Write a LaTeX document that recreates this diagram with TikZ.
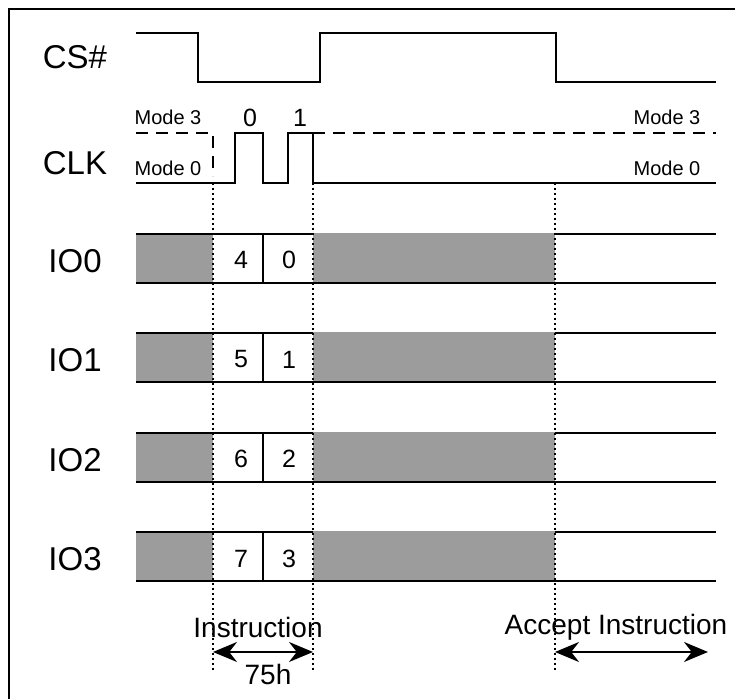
\documentclass[tikz,border=0pt]{standalone}
\usepackage{fontspec}
\setmainfont{Liberation Sans}
\usetikzlibrary{arrows.meta}
\definecolor{busygray}{HTML}{9C9C9C}
\tikzset{
sig/.style={line width=1pt}, % solid signal lines
modethree/.style={line width=1pt, dash pattern=on 6pt off 4pt}, % mode 3 clock level
guide/.style={line width=1.2pt, dash pattern=on 1.2pt off 1.3pt}, % vertical timing guides
busy/.style={fill=busygray}, % undefined data
signame/.style={font=\fontsize{16.5}{19}\selectfont}, % CS#, CLK, IOx
modetext/.style={font=\fontsize{10}{12}\selectfont}, % Mode 0 / Mode 3
digit/.style={font=\fontsize{12.5}{15}\selectfont}, % bit numbers
note/.style={font=\fontsize{14}{17}\selectfont}, % bottom texts
span/.style={line width=1pt, {Stealth[length=12pt,width=10pt]}-{Stealth[length=12pt,width=10pt]}},
}
\begin{document}
\begin{tikzpicture}[x=0.5pt, y=-0.5pt]
        \useasboundingbox (0,0) rectangle (735,699);
        \draw[line width=1.2pt] (9,699) -- (9,9) -- (735,9);

        % chip select
        \node[signame] (cs) at (75,57) {CS\#};
        \draw[sig] (136,33) -- (198,33) -- (198,82) -- (320,82) -- (320,33)
                   -- (556,33) -- (556,82) -- (716,82);

        % clock
        \node[signame] (clk) at (75,163) {CLK};
        \node[modetext] (m3l) at (168,117) {Mode 3};
        \node[modetext] (m0l) at (168,168) {Mode 0};
        \node[modetext] (m3r) at (667,117) {Mode 3};
        \node[modetext] (m0r) at (667,168) {Mode 0};
        \node[digit] (clk0) at (250,118) {0};
        \node[digit] (clk1) at (300,118) {1};
        \draw[modethree] (136,133) -- (213,133) -- (213,176);
        \draw[modethree] (313,133) -- (716,133);
        \draw[sig] (136,183) -- (235,183) -- (235,133) -- (263,133) -- (263,183)
                   -- (288,183) -- (288,133) -- (313,133) -- (313,183) -- (716,183);

        % data lines
        \foreach \i/\hi/\lo in {0/4/0,1/5/1,2/6/2,3/7/3}{
            \pgfmathsetmacro\t{234+99.5*\i}
            \fill[busy] (136,\t) rectangle (213,{\t+49});
            \draw[sig] (136,\t) -- (716,\t) (136,{\t+49}) -- (716,{\t+49});
            \fill[busy] (313,{\t-1}) rectangle (555,{\t+48});
            \draw[sig] (263,\t) -- (263,{\t+49});
            \node[signame] (io\i) at (75,{\t+27}) {IO\i};
            \node[digit] (hi\i) at (241,{\t+26}) {\hi};
            \node[digit] (lo\i) at (289,{\t+26}) {\lo};
        }

        % guides
        \draw[guide] (213,183) -- (213,670);
        \draw[guide] (313,183) -- (313,670);
        \draw[guide] (555,183) -- (555,670);

        \node[note] (instr) at (258,627) {Instruction};
        \node[note] (code) at (268,674) {75h};
        \node[note] (accept) at (616,627) {Accept Instruction};
        \draw[span] (213,652) -- (313,652);
        \draw[span] (555,652) -- (708,652);
\end{tikzpicture}
\end{document}
